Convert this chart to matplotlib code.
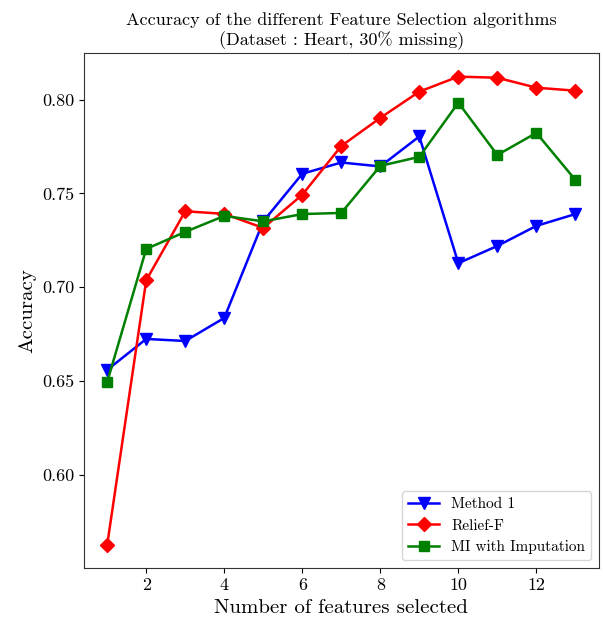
import matplotlib
matplotlib.use("Agg")
import matplotlib.pyplot as plt

features = list(range(1, 14))
method1 = [0.6559, 0.6724, 0.6713, 0.6836, 0.7351, 0.7605, 0.7665, 0.7644, 0.7804, 0.7128, 0.7220, 0.7327, 0.7390]
relieff = [0.5627, 0.7037, 0.7405, 0.7391, 0.7316, 0.7493, 0.7753, 0.7903, 0.8043, 0.8123, 0.8117, 0.8064, 0.8048]
mi_imp = [0.6495, 0.7204, 0.7295, 0.7380, 0.7351, 0.7390, 0.7396, 0.7647, 0.7695, 0.7984, 0.7705, 0.7823, 0.7572]

plt.rcParams['font.family'] = ['cmr10', 'DejaVu Serif']
plt.rcParams['axes.unicode_minus'] = False
plt.rcParams['mathtext.fontset'] = 'cm'

fig = plt.figure(figsize=(6.03, 6.21), dpi=100)
ax = fig.add_axes([0.139, 0.0853, 0.854, 0.829])

ax.plot(features, method1, color='blue', marker='v', markersize=9, linewidth=1.8, label='Method 1')
ax.plot(features, relieff, color='red', marker='D', markersize=7.5, linewidth=1.8, label='Relief-F')
ax.plot(features, mi_imp, color='green', marker='s', markersize=7.5, linewidth=1.8, label='MI with Imputation')

ax.set_xticks([2, 4, 6, 8, 10, 12])
ax.set_yticks([0.60, 0.65, 0.70, 0.75, 0.80])
ax.set_yticklabels(['0.60', '0.65', '0.70', '0.75', '0.80'])
ax.tick_params(labelsize=13)
ax.set_xlabel('Number of features selected', fontsize=15)
ax.set_ylabel('Accuracy', fontsize=15)
ax.set_title('Accuracy of the different Feature Selection algorithms\n(Dataset : Heart, 30% missing)', fontsize=13)
for s in ax.spines.values():
    s.set_color('#333333')
ax.legend(loc='lower right', fontsize=11)

fig.savefig('out.png', dpi=100)
